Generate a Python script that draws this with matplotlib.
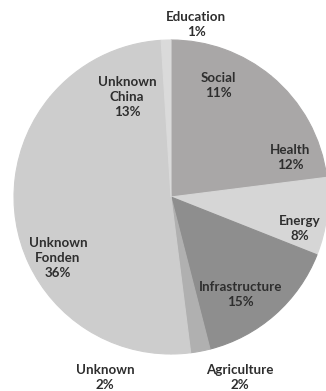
import matplotlib
matplotlib.use('Agg')
from matplotlib import pyplot as plt

# funding share by sector, clockwise from 12 o'clock
sectors = ['Social', 'Health', 'Energy', 'Infrastructure', 'Agriculture',
           'Unknown', 'Unknown\nFonden', 'Unknown\nChina', 'Education']
shares = [11, 12, 8, 15, 2, 2, 36, 13, 1]

colors = ['#a9a7a7', '#a9a7a7', '#d6d6d6', '#8e8e8e', '#b0b0b0',
          '#cdcdcd', '#cdcdcd', '#cdcdcd', '#dadada']
# label centres in pie-radius units
label_xy = [(0.30, 0.71), (0.76, 0.25), (0.82, -0.20), (0.44, -0.62),
            (0.44, -1.15), (-0.42, -1.15), (-0.72, -0.39), (-0.28, 0.64),
            (0.16, 1.10)]

W, H = 326, 391
fig = plt.figure(figsize=(W / 100, H / 100), dpi=100)
cx, cy, r = 171, 197, 157
ax = fig.add_axes([(cx - r) / W, (H - cy - r) / H, 2 * r / W, 2 * r / H])

wedges, _ = ax.pie(shares, colors=colors, startangle=90, counterclock=False,
                   radius=1)
# edges in the fill colour hide the antialiasing seams between like slices
for w, c in zip(wedges, colors):
    w.set_edgecolor(c)
    w.set_linewidth(0.8)
ax.set_xlim(-1, 1)
ax.set_ylim(-1, 1)
ax.set_aspect('equal')
ax.axis('off')

for name, val, (x, y) in zip(sectors, shares, label_xy):
    ax.text(x, y, f'{name}\n{val}%', ha='center', va='center',
            fontsize=9.6, fontweight='bold', family='Lato', color='#2e2e2e',
            linespacing=1.3, clip_on=False)

fig.savefig('out.png', dpi=100)
